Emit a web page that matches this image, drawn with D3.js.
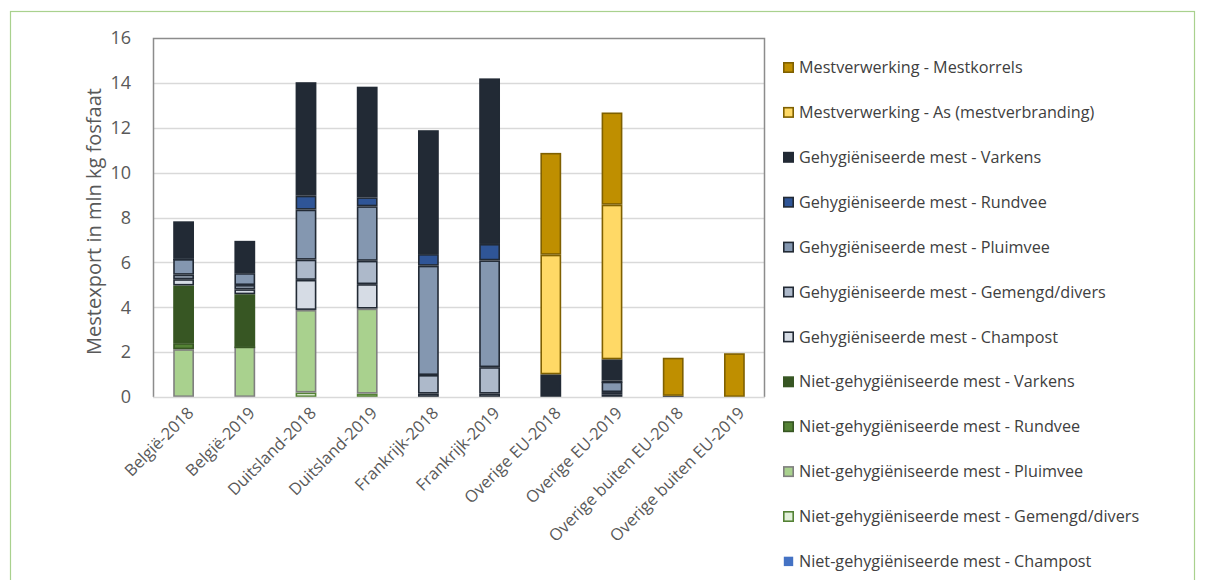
<!DOCTYPE html>
<html>
<head>
<meta charset="utf-8">
<title>Mestexport</title>
<script src="https://d3js.org/d3.v7.min.js"></script>
<style>
  html, body { margin: 0; padding: 0; background: #fff; }
  text { font-family: "Open Sans", "Noto Sans", sans-serif; }
</style>
</head>
<body>
<svg id="chart" width="1206" height="580"></svg>
<script>
// categories on the x axis
var categories = ["België-2018", "België-2019", "Duitsland-2018", "Duitsland-2019",
  "Frankrijk-2018", "Frankrijk-2019", "Overige EU-2018", "Overige EU-2019",
  "Overige buiten EU-2018", "Overige buiten EU-2019"];

// series, bottom of the stack first
var seriesNames = [
  "Niet-gehygiëniseerde mest - Champost",
  "Niet-gehygiëniseerde mest - Gemengd/divers",
  "Niet-gehygiëniseerde mest - Pluimvee",
  "Niet-gehygiëniseerde mest - Rundvee",
  "Niet-gehygiëniseerde mest - Varkens",
  "Gehygiëniseerde mest - Champost",
  "Gehygiëniseerde mest - Gemengd/divers",
  "Gehygiëniseerde mest - Pluimvee",
  "Gehygiëniseerde mest - Rundvee",
  "Gehygiëniseerde mest - Varkens",
  "Mestverwerking - As (mestverbranding)",
  "Mestverwerking - Mestkorrels"
];

// values per series (mln kg fosfaat), one per category
var nietChampost  = [0, 0, 0, 0, 0, 0, 0, 0, 0, 0];
var nietGemengd   = [0, 0, 0.2, 0.15, 0, 0, 0, 0, 0, 0];
var nietPluimvee  = [2.13, 2.25, 3.68, 3.79, 0, 0, 0, 0, 0, 0];
var nietRundvee   = [0.27, 0.02, 0, 0, 0, 0, 0, 0, 0, 0];
var nietVarkens   = [2.57, 2.31, 0, 0, 0, 0, 0, 0, 0, 0];
var gehChampost   = [0.28, 0.22, 1.34, 1.09, 0.15, 0.15, 0, 0.1, 0, 0];
var gehGemengd    = [0.2, 0.19, 0.9, 1.04, 0.83, 1.18, 0, 0.12, 0, 0];
var gehPluimvee   = [0.7, 0.53, 2.23, 2.43, 4.87, 4.76, 0, 0.46, 0, 0];
var gehRundvee    = [0.04, 0, 0.62, 0.4, 0.52, 0.73, 0, 0.05, 0, 0];
var gehVarkens    = [1.64, 1.44, 5.06, 4.93, 5.52, 7.38, 1.01, 0.95, 0.05, 0];
var mvAs          = [0, 0, 0, 0, 0, 0, 5.33, 6.89, 0, 0];
var mvMestkorrels = [0, 0, 0, 0, 0, 0, 4.54, 4.11, 1.7, 1.95];

var seriesValues = [nietChampost, nietGemengd, nietPluimvee, nietRundvee, nietVarkens,
  gehChampost, gehGemengd, gehPluimvee, gehRundvee, gehVarkens, mvAs, mvMestkorrels];

var fills   = ["#4472c4", "#e2f0d9", "#a9d18e", "#548235", "#375623",
  "#d6dce5", "#adb9ca", "#8497b0", "#2f5597", "#222a35", "#ffd966", "#bf8f00"];
var strokes = ["none", "#548235", "#7f7f7f", "#375623", "#375623",
  "#222a35", "#222a35", "#222a35", "#222a35", "#222a35", "#7f6000", "#7f6000"];

var yTicks = [0, 2, 4, 6, 8, 10, 12, 14, 16];

// build table for d3.stack
var table = categories.map(function(c, i) {
  var row = { cat: c };
  seriesNames.forEach(function(s, j) { row[s] = seriesValues[j][i]; });
  return row;
});

var svg = d3.select("#chart");
var margin = { top: 38, left: 153, right: 441, bottom: 183 };
var width = 1206 - margin.left - margin.right,
    height = 580 - margin.top - margin.bottom;

// outer frame
svg.append("rect")
  .attr("x", 10.5).attr("y", 11.5)
  .attr("width", 1184).attr("height", 600)
  .attr("fill", "none").attr("stroke", "#a9d18e").attr("stroke-width", 1.2);

var g = svg.append("g").attr("transform", "translate(" + margin.left + "," + margin.top + ")");

var x = d3.scaleBand().domain(categories).range([0, width]).paddingInner(0.66).paddingOuter(0.33);
var y = d3.scaleLinear().domain([0, 16]).range([height, 0]);

// gridlines
g.selectAll("line.grid").data(yTicks.slice(1, -1)).enter().append("line")
  .attr("class", "grid")
  .attr("x1", 0).attr("x2", width)
  .attr("y1", function(d) { return Math.round(y(d)) + 0.5; })
  .attr("y2", function(d) { return Math.round(y(d)) + 0.5; })
  .attr("stroke", "#d9d9d9").attr("stroke-width", 1.5);

// bars
var stack = d3.stack().keys(seriesNames);
var layers = stack(table);

var layer = g.selectAll("g.layer").data(layers).enter().append("g")
  .attr("class", "layer")
  .attr("fill", function(d, i) { return fills[i]; })
  .attr("stroke", function(d, i) { return strokes[i]; })
  .attr("stroke-width", 1.6);

layer.selectAll("rect")
  .data(function(d) { return d.filter(function(p) { return p[1] - p[0] > 0; }); })
  .enter().append("rect")
  .attr("x", function(d) { return x(d.data.cat) + 0.8; })
  .attr("width", x.bandwidth() - 1.6)
  .attr("y", function(d) { return y(d[1]) + 0.8; })
  .attr("height", function(d) { return Math.max(0.5, y(d[0]) - y(d[1]) - 1.6); });

// plot frame: left, top, right and bottom lines
g.append("path")
  .attr("d", "M0.5," + height + "V0.5H" + (width - 0.5) + "V" + height)
  .attr("fill", "none").attr("stroke", "#8c8c8c").attr("stroke-width", 1.5);
g.append("line")
  .attr("x1", 0).attr("x2", width).attr("y1", height + 0.5).attr("y2", height + 0.5)
  .attr("stroke", "#d9d9d9").attr("stroke-width", 1.5);

// y axis labels
var yAxis = d3.axisLeft(y).tickValues(yTicks).tickSize(0).tickPadding(22);
g.append("g").call(yAxis)
  .call(function(a) { a.select(".domain").remove(); })
  .selectAll("text")
  .attr("font-size", "18px").attr("fill", "#595959")
  .style("font-family", "'Open Sans', sans-serif");

// x axis labels
var xAxis = d3.axisBottom(x).tickSize(0).tickPadding(0);
g.append("g").attr("transform", "translate(0," + height + ")").call(xAxis)
  .call(function(a) { a.select(".domain").remove(); })
  .selectAll("text")
  .attr("font-size", "16.5px").attr("fill", "#595959")
  .style("font-family", "'Open Sans', sans-serif")
  .attr("text-anchor", "end")
  .attr("dy", "0.35em")
  .attr("transform", "translate(7,13) rotate(-45)");

// y axis title
svg.append("text")
  .attr("transform", "translate(101," + (margin.top + height / 2 + 4) + ") rotate(-90)")
  .attr("text-anchor", "middle")
  .attr("font-size", "20px").attr("fill", "#595959")
  .text("Mestexport in mln kg fosfaat");

// legend, top entry is the last series
var legendOrder = d3.range(seriesNames.length).reverse();
var legend = svg.append("g").attr("transform", "translate(783,62)");
var item = legend.selectAll("g").data(legendOrder).enter().append("g")
  .attr("transform", function(d, i) { return "translate(0," + (i * 44.9) + ")"; });
item.append("rect")
  .attr("x", 0.8).attr("y", 0.8).attr("width", 9.4).attr("height", 9.4)
  .attr("fill", function(d) { return fills[d]; })
  .attr("stroke", function(d) { return strokes[d]; })
  .attr("stroke-width", 1.6);
item.append("text")
  .attr("x", 16).attr("y", 5.5).attr("dy", "0.35em")
  .attr("font-size", "16.2px").attr("fill", "#404040")
  .text(function(d) { return seriesNames[d]; });
</script>
</body>
</html>
